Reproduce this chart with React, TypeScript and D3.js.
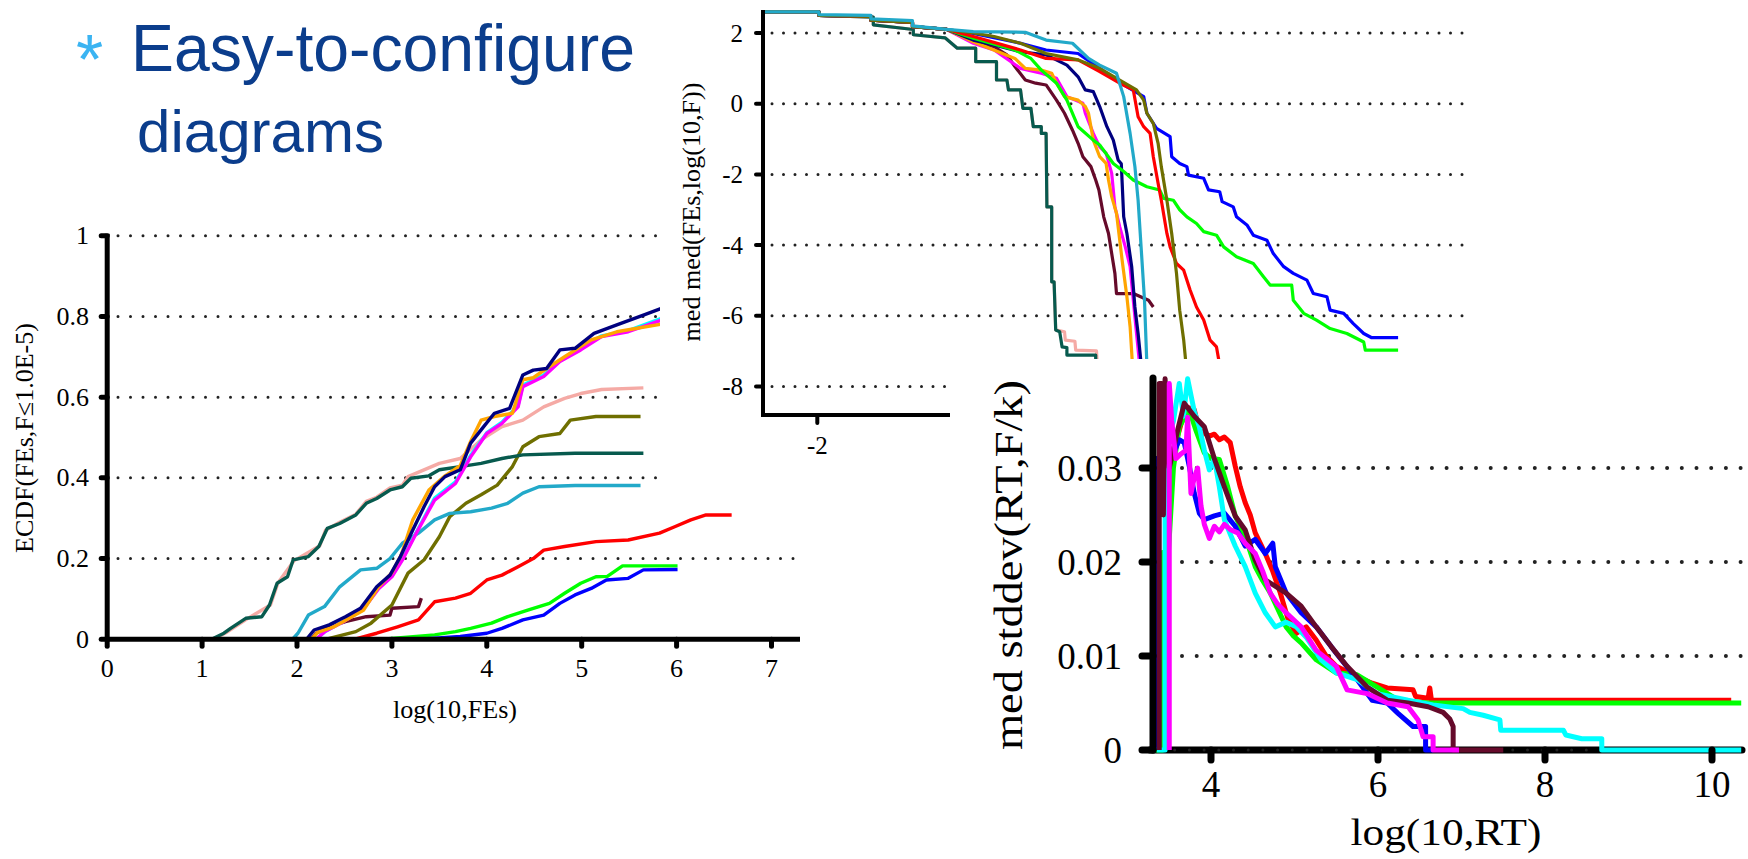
import React from "react";
import * as d3 from "d3";

type P = [number, number];

// ---------- Left chart: ECDF ----------
const ECDF_X_TICKS = [0, 1, 2, 3, 4, 5, 6, 7];
const ECDF_Y_TICKS = [0, 0.2, 0.4, 0.6, 0.8, 1];
const ECDF_Y_LABELS = ["0", "0.2", "0.4", "0.6", "0.8", "1"];

const ECDF_TEAL: P[] = [[0,0],[1.1,0],[1.23,.015],[1.3,.027],[1.46,.052],[1.63,.056],[1.71,.085],[1.79,.139],[1.9,.155],[1.96,.197],[2.12,.205],[2.23,.23],[2.32,.275],[2.45,.287],[2.62,.308],[2.73,.337],[2.84,.349],[2.98,.37],[3.11,.378],[3.2,.399],[3.39,.405],[3.5,.42],[3.72,.428],[3.94,.436],[4.16,.448],[4.38,.457],[4.93,.461],[5.65,.461]];
const ECDF_PINK: P[] = [[0,0],[1.12,0],[1.25,.016],[1.47,.05],[1.72,.085],[1.8,.14],[1.97,.195],[2.24,.232],[2.3,.27],[2.45,.29],[2.62,.31],[2.73,.342],[2.84,.352],[2.98,.375],[3.11,.382],[3.17,.403],[3.5,.436],[3.72,.448],[3.94,.494],[4.16,.527],[4.38,.543],[4.6,.576],[4.82,.597],[4.99,.609],[5.21,.619],[5.65,.623]];
const ECDF_STEEL: P[] = [[0,0],[1.95,0],[2.01,.015],[2.12,.06],[2.29,.081],[2.45,.13],[2.67,.172],[2.84,.176],[2.98,.2],[3.11,.238],[3.28,.263],[3.45,.296],[3.61,.312],[3.83,.316],[4.05,.325],[4.22,.337],[4.38,.362],[4.55,.378],[4.93,.381],[5.62,.381]];
const ECDF_NAVY: P[] = [[0,0],[2.1,0],[2.18,.023],[2.34,.036],[2.51,.056],[2.67,.077],[2.84,.13],[2.98,.159],[3.09,.205],[3.22,.271],[3.34,.329],[3.45,.378],[3.56,.403],[3.72,.42],[3.83,.486],[3.94,.519],[4.08,.56],[4.24,.572],[4.38,.655],[4.49,.667],[4.63,.671],[4.77,.717],[4.93,.721],[5.13,.758],[5.37,.779],[5.65,.803],[5.84,.82]];
const ECDF_ORANGE: P[] = [[0,0],[2.15,0],[2.22,.018],[2.38,.03],[2.55,.052],[2.7,.072],[2.86,.13],[3.0,.165],[3.1,.21],[3.22,.296],[3.39,.37],[3.56,.405],[3.72,.43],[3.83,.49],[3.94,.543],[4.08,.552],[4.27,.56],[4.38,.643],[4.49,.648],[4.63,.671],[4.82,.7],[5.1,.742],[5.37,.762],[5.84,.781]];
const ECDF_MAGENTA: P[] = [[0,0],[2.2,0],[2.3,.02],[2.5,.045],[2.7,.075],[2.86,.125],[3.0,.155],[3.12,.2],[3.25,.26],[3.45,.345],[3.67,.386],[3.83,.452],[4.0,.51],[4.16,.535],[4.33,.576],[4.38,.626],[4.6,.651],[4.77,.688],[4.99,.717],[5.21,.75],[5.49,.762],[5.84,.791]];
const ECDF_CYAN: P[] = [[0,0],[2.2,0],[2.3,.02],[2.5,.046],[2.7,.076],[2.86,.127],[3.0,.157],[3.12,.203],[3.25,.262],[3.45,.35],[3.67,.39],[3.83,.456],[4.0,.512],[4.16,.538],[4.33,.58],[4.38,.63],[4.6,.655],[4.77,.69],[4.99,.72],[5.21,.752],[5.49,.765],[5.84,.795]];
const ECDF_OLIVE: P[] = [[0,0],[2.3,0],[2.62,.019],[2.78,.04],[3.0,.085],[3.17,.164],[3.34,.197],[3.5,.254],[3.61,.304],[3.78,.337],[3.94,.358],[4.11,.382],[4.27,.428],[4.38,.477],[4.55,.502],[4.77,.51],[4.88,.543],[5.15,.552],[5.62,.552]];
const ECDF_MAROON: P[] = [[0,0],[2.15,0],[2.2,.015],[2.34,.031],[2.51,.044],[2.73,.056],[2.98,.06],[3.0,.077],[3.28,.081],[3.31,.102]];
const ECDF_RED: P[] = [[0,0],[2.6,0],[2.84,.015],[3.06,.031],[3.28,.048],[3.45,.093],[3.67,.102],[3.83,.114],[4.0,.147],[4.16,.159],[4.33,.18],[4.49,.2],[4.6,.221],[4.82,.23],[5.15,.242],[5.49,.246],[5.82,.263],[5.98,.279],[6.15,.296],[6.31,.308],[6.58,.308]];
const ECDF_GREEN: P[] = [[0,0],[2.9,0],[3.45,.011],[3.67,.019],[3.83,.027],[4.05,.04],[4.22,.056],[4.44,.073],[4.66,.089],[4.82,.114],[4.99,.139],[5.15,.155],[5.27,.156],[5.43,.182],[6.01,.182]];
const ECDF_BLUE: P[] = [[0,0],[3.3,0],[3.72,.007],[4.0,.015],[4.16,.027],[4.38,.048],[4.6,.06],[4.77,.089],[4.93,.11],[5.1,.126],[5.26,.147],[5.49,.151],[5.65,.172],[6.01,.173]];

// ---------- Top chart: med med(FEs, log(10,F)) ----------
const TOP_Y_TICKS = [2, 0, -2, -4, -6, -8];
const TOP_X_TICKS = [-2, 0, 2, 4];
const TOP_START: P[] = [[-2.68,2.6],[-1.98,2.6],[-1.98,2.5],[-1.33,2.47],[-1.33,2.36],[-0.81,2.3],[-0.81,2.18],[-0.38,2.1]];
const TOP_TEAL: P[] = [[-2.68,2.6],[-1.98,2.6],[-1.98,2.5],[-1.3,2.45],[-1.3,2.23],[-0.8,2.1],[-0.8,1.95],[-0.4,1.86],[-0.25,1.57],[-0.02,1.57],[-0.02,1.19],[0.24,1.19],[0.24,.67],[.37,.67],[.39,.39],[.54,.39],[.57,-.13],[.67,-.13],[.7,-.65],[.8,-.65],[.8,-.84],[.86,-.84],[.87,-2.92],[.93,-2.92],[.93,-5.04],[.96,-5.04],[.98,-6.4],[1.03,-6.45],[1.06,-6.88],[1.12,-6.9],[1.12,-7.11],[1.48,-7.11],[1.48,-7.4]];
const TOP_PINK: P[] = [[-2.68,2.6],[-1.98,2.6],[-1.98,2.5],[-1.3,2.45],[-1.3,2.23],[-0.8,2.1],[-0.8,1.95],[-0.4,1.86],[-0.25,1.57],[-0.02,1.57],[-0.02,1.19],[0.24,1.19],[0.24,.67],[.37,.67],[.39,.39],[.54,.39],[.57,-.13],[.67,-.13],[.7,-.65],[.8,-.65],[.8,-.84],[.86,-.84],[.87,-2.92],[.93,-2.92],[.93,-5.04],[.96,-5.04],[.98,-6.4],[1.09,-6.45],[1.1,-6.69],[1.22,-6.72],[1.23,-6.97],[1.49,-6.99],[1.5,-7.4]];
const TOP_MAROON: P[] = [...TOP_START,[-0.05,1.75],[0.21,1.61],[0.37,1.38],[0.47,1.05],[0.6,.67],[0.73,.58],[0.86,.53],[0.99,.1],[1.09,-.27],[1.19,-.75],[1.26,-1.12],[1.32,-1.5],[1.42,-1.78],[1.48,-2.16],[1.52,-2.44],[1.58,-3.2],[1.64,-3.67],[1.68,-4.24],[1.72,-4.8],[1.74,-5.37],[1.95,-5.37],[2.14,-5.56],[2.2,-5.75]];
const TOP_MAGENTA: P[] = [...TOP_START,[-0.05,1.71],[0.21,1.52],[0.54,1.0],[0.8,.86],[0.99,.72],[1.12,.2],[1.32,.01],[1.35,-.27],[1.45,-.84],[1.53,-1.22],[1.61,-1.4],[1.68,-1.97],[1.72,-2.92],[1.78,-3.48],[1.85,-4.05],[1.91,-4.61],[1.97,-6.03],[2.03,-7.4]];
const TOP_ORANGE: P[] = [...TOP_START,[-0.05,1.75],[0.47,1.28],[0.6,1.0],[0.8,.95],[0.93,.86],[0.99,.58],[1.09,.2],[1.26,.1],[1.35,-.08],[1.39,-.27],[1.45,-1.03],[1.53,-1.5],[1.61,-1.69],[1.64,-2.16],[1.68,-2.63],[1.74,-3.1],[1.81,-4.42],[1.87,-5.46],[1.91,-6.31],[1.94,-7.4]];
const TOP_NAVY: P[] = [...TOP_START,[-0.05,1.8],[0.21,1.66],[0.54,1.47],[0.86,1.38],[1.12,1.09],[1.26,.76],[1.35,.39],[1.45,.34],[1.53,-.08],[1.62,-.65],[1.7,-1.03],[1.76,-1.59],[1.8,-1.7],[1.83,-3.2],[1.87,-3.67],[1.93,-4.61],[1.97,-5.75],[2.01,-6.5],[2.05,-7.4]];
const TOP_STEEL: P[] = [[-2.68,2.6],[-1.98,2.6],[-1.98,2.52],[-1.33,2.5],[-1.33,2.4],[-0.81,2.35],[-0.81,2.2],[-0.38,2.1],[-0.05,2.04],[0.6,2.02],[0.86,1.8],[1.19,1.71],[1.39,1.28],[1.53,1.09],[1.74,.86],[1.83,.2],[1.91,-.84],[1.97,-1.78],[2.01,-2.73],[2.05,-4.14],[2.09,-5.56],[2.12,-7.4]];
const TOP_GREEN: P[] = [...TOP_START,[-0.05,1.85],[0.47,1.52],[0.67,1.28],[0.8,.95],[0.99,.58],[1.12,.1],[1.26,-.65],[1.45,-1.03],[1.53,-1.17],[1.7,-1.69],[1.83,-1.92],[1.95,-2.16],[2.12,-2.35],[2.28,-2.44],[2.33,-2.68],[2.45,-2.73],[2.53,-3.0],[2.62,-3.2],[2.74,-3.39],[2.83,-3.62],[2.99,-3.72],[3.08,-4.05],[3.24,-4.33],[3.45,-4.52],[3.58,-4.9],[3.66,-5.13],[3.93,-5.13],[3.95,-5.56],[4.08,-5.93],[4.24,-6.12],[4.41,-6.36],[4.62,-6.5],[4.83,-6.74],[4.85,-6.97],[5.26,-6.97]];
const TOP_BLUE: P[] = [...TOP_START,[-0.05,1.99],[0.54,1.71],[0.86,1.52],[1.26,1.42],[1.53,1.0],[1.83,.53],[2.08,.2],[2.12,-.27],[2.24,-.7],[2.41,-.93],[2.43,-1.5],[2.53,-1.69],[2.62,-1.78],[2.64,-2.02],[2.83,-2.11],[2.89,-2.44],[3.03,-2.49],[3.06,-2.77],[3.2,-2.92],[3.24,-3.2],[3.37,-3.43],[3.45,-3.72],[3.62,-3.86],[3.7,-4.24],[3.83,-4.61],[3.95,-4.8],[4.12,-4.99],[4.2,-5.37],[4.37,-5.46],[4.41,-5.84],[4.58,-5.93],[4.7,-6.22],[4.83,-6.5],[4.93,-6.62],[5.26,-6.62]];
const TOP_RED: P[] = [...TOP_START,[-0.05,1.9],[0.54,1.52],[0.86,1.28],[1.26,1.24],[1.53,.91],[1.78,.58],[1.95,.39],[2.01,-.37],[2.08,-.65],[2.16,-.84],[2.2,-1.5],[2.26,-2.25],[2.3,-2.73],[2.37,-3.67],[2.41,-4.05],[2.49,-4.52],[2.58,-4.71],[2.66,-5.27],[2.74,-5.75],[2.83,-6.12],[2.91,-6.69],[2.99,-6.88],[3.03,-7.4]];
const TOP_OLIVE: P[] = [...TOP_START,[-0.05,2.0],[0.21,1.9],[0.54,1.71],[0.86,1.42],[1.26,1.24],[1.53,1.0],[1.78,.67],[1.99,.39],[2.08,.1],[2.12,-.27],[2.2,-.56],[2.26,-1.12],[2.3,-1.78],[2.37,-2.73],[2.43,-3.67],[2.49,-4.8],[2.53,-5.84],[2.58,-6.69],[2.61,-7.4]];

// ---------- Right chart: med stddev(RT, F/k) ----------
const STD_X_TICKS = [4, 6, 8, 10];
const STD_Y_TICKS = [0, 0.01, 0.02, 0.03];
const STD_Y_LABELS = ["0", "0.01", "0.02", "0.03"];
const STD_RED: P[] = [[3.47,0],[3.47,.03],[3.55,.032],[3.62,.034],[3.7,.0365],[3.8,.0362],[3.86,.034],[3.92,.0337],[3.98,.0334],[4.04,.0336],[4.1,.033],[4.16,.0333],[4.23,.0327],[4.29,.0302],[4.35,.028],[4.41,.0263],[4.47,.025],[4.53,.0231],[4.65,.0209],[4.74,.019],[4.83,.0167],[4.92,.014],[5.02,.0124],[5.14,.0131],[5.26,.0117],[5.38,.01],[5.5,.0089],[5.75,.0078],[5.93,.0071],[6.11,.0066],[6.42,.0064],[6.45,.0057],[6.6,.0055],[6.62,.0066],[6.64,.0053],[10.23,.0053]];
const STD_GREEN: P[] = [[3.3,0],[3.42,0],[3.42,.021],[3.49,.021],[3.55,.03],[3.62,.0344],[3.74,.0362],[3.82,.034],[3.92,.0316],[4.0,.031],[4.1,.0309],[4.2,.028],[4.29,.0249],[4.41,.0227],[4.53,.0195],[4.62,.018],[4.71,.0167],[4.8,.015],[4.9,.0131],[4.98,.0122],[5.08,.0114],[5.26,.0096],[5.5,.0082],[5.75,.008],[5.99,.0067],[6.24,.0053],[6.6,.005],[10.35,.005]];
const STD_BLUE: P[] = [[3.33,0],[3.33,.031],[3.45,.031],[3.55,.0315],[3.62,.033],[3.68,.0327],[3.74,.0302],[3.8,.0273],[3.86,.0252],[3.92,.0245],[4.04,.0249],[4.16,.0252],[4.29,.0238],[4.41,.0217],[4.53,.0224],[4.65,.0209],[4.74,.022],[4.77,.0195],[4.9,.0167],[5.08,.0146],[5.26,.0131],[5.5,.0103],[5.75,.0075],[5.93,.0053],[6.11,.005],[6.24,.0039],[6.42,.0025],[6.57,.0025],[6.57,0],[6.66,0]];
const STD_CYAN: P[] = [[3.35,0],[3.45,0],[3.45,.032],[3.55,.035],[3.62,.039],[3.67,.0355],[3.72,.0395],[3.8,.036],[3.86,.0344],[3.92,.0319],[3.98,.0298],[4.04,.031],[4.1,.028],[4.16,.0245],[4.29,.0217],[4.41,.0195],[4.53,.0167],[4.65,.0146],[4.77,.0131],[4.9,.0136],[5.02,.0131],[5.14,.012],[5.32,.0096],[5.5,.0082],[5.75,.0075],[5.99,.006],[6.36,.0053],[6.66,.0048],[7.02,.0044],[7.1,.004],[7.26,.0037],[7.46,.0032],[7.47,.0021],[8.22,.0021],[8.25,.0016],[8.44,.0012],[8.68,.0012],[8.68,0],[10.35,0]];
const STD_MAROON: P[] = [[3.38,0],[3.38,.039],[3.41,.039],[3.43,.025],[3.45,.0395],[3.5,.03],[3.6,.034],[3.68,.0369],[3.8,.0355],[3.92,.0344],[4.04,.031],[4.16,.028],[4.29,.0249],[4.41,.0234],[4.53,.0202],[4.65,.0181],[4.9,.0167],[5.08,.0153],[5.26,.0131],[5.44,.011],[5.63,.0089],[5.87,.0067],[6.11,.0053],[6.36,.005],[6.6,.0046],[6.78,.004],[6.86,.0033],[6.9,.0025],[6.9,0],[7.5,0]];
const STD_MAGENTA: P[] = [[3.5,0],[3.5,.039],[3.53,.035],[3.58,.031],[3.64,.0315],[3.7,.0319],[3.72,.0354],[3.76,.0273],[3.8,.029],[3.84,.03],[3.88,.026],[3.92,.024],[3.98,.0225],[4.04,.0238],[4.1,.0232],[4.16,.024],[4.24,.0234],[4.32,.0231],[4.41,.022],[4.53,.0209],[4.62,.019],[4.71,.0167],[4.8,.0155],[4.9,.0146],[5.08,.0131],[5.26,.0106],[5.5,.0089],[5.63,.0064],[5.87,.006],[6.11,.005],[6.36,.0046],[6.48,.0032],[6.54,.0014],[6.66,.0014],[6.66,0],[6.97,0]];

const C = {
  teal: "#075a4e", pink: "#f5aaa5", steel: "#22a9c9", navy: "#00007f", orange: "#ffa500",
  magenta: "#ff00ff", cyan: "#00ffff", olive: "#6f6f00", maroon: "#650a2a", red: "#ff0000",
  green: "#00ff00", blue: "#0000ff",
};

const SERIF = "'Liberation Serif', 'Times New Roman', serif";
const SANS = "'Liberation Sans', Arial, sans-serif";

function Dotted({ x1, x2, y, gap, w }: { x1: number; x2: number; y: number; gap: number; w: number }) {
  return <line x1={x1} x2={x2} y1={y} y2={y} stroke="#222" strokeWidth={w} strokeLinecap="round" strokeDasharray={`0 ${gap}`} />;
}

export default function App() {
  const xL = d3.scaleLinear().domain([0, 7]).range([107.2, 771.5]);
  const yL = d3.scaleLinear().domain([0, 1]).range([639.3, 235.7]);
  const lL = d3.line<P>().x(d => xL(d[0])).y(d => yL(d[1]));
  const xT = d3.scaleLinear().domain([-2, 0]).range([817.3, 977.3]);
  const yT = d3.scaleLinear().domain([0, 2]).range([103.7, 33]);
  const lT = d3.line<P>().x(d => xT(d[0])).y(d => yT(d[1]));
  const xR = d3.scaleLinear().domain([4, 10]).range([1211, 1712]);
  const yR = d3.scaleLinear().domain([0, 0.03]).range([750, 468]);
  const lR = d3.line<P>().x(d => xR(d[0])).y(d => yR(d[1]));

  const ecdf: [P[], string][] = [
    [ECDF_GREEN, C.green], [ECDF_BLUE, C.blue], [ECDF_RED, C.red], [ECDF_MAROON, C.maroon],
    [ECDF_OLIVE, C.olive], [ECDF_STEEL, C.steel], [ECDF_PINK, C.pink], [ECDF_TEAL, C.teal],
    [ECDF_CYAN, C.cyan], [ECDF_MAGENTA, C.magenta], [ECDF_ORANGE, C.orange], [ECDF_NAVY, C.navy],
  ];
  const top: [P[], string][] = [
    [TOP_PINK, C.pink], [TOP_TEAL, C.teal], [TOP_MAROON, C.maroon], [TOP_MAGENTA, C.magenta],
    [TOP_ORANGE, C.orange], [TOP_NAVY, C.navy], [TOP_GREEN, C.green], [TOP_BLUE, C.blue],
    [TOP_RED, C.red], [TOP_OLIVE, C.olive], [TOP_STEEL, C.steel],
  ];
  const std: [P[], string][] = [
    [STD_RED, C.red], [STD_GREEN, C.green], [STD_BLUE, C.blue], [STD_CYAN, C.cyan],
    [STD_MAROON, C.maroon], [STD_MAGENTA, C.magenta],
  ];

  return (
    <svg width={1748} height={859} style={{ position: "absolute", left: 0, top: 0, background: "#fff" }}>
      <rect x={0} y={0} width={1748} height={859} fill="#fff" />
      {/* Title */}
      <text x={76} y={84} fill="#3bb4f2" fontFamily={SANS} fontSize={70}>*</text>
      <text x={131} y={71} fill="#0b3d8c" fontFamily={SANS} fontSize={66} textLength={504} lengthAdjust="spacingAndGlyphs">Easy-to-configure</text>
      <text x={137} y={152} fill="#0b3d8c" fontFamily={SANS} fontSize={60} textLength={247} lengthAdjust="spacingAndGlyphs">diagrams</text>

      {/* ===== Left ECDF chart ===== */}
      <g>
        {ECDF_Y_TICKS.filter(t => t > 0).map(t => (
          <Dotted key={t} x1={118} x2={799} y={yL(t)} gap={12.5} w={3} />
        ))}
        {ecdf.map(([d, c], i) => (
          <path key={i} d={lL(d) || ""} fill="none" stroke={c} strokeWidth={3.4} strokeLinejoin="round" />
        ))}
        <line x1={xL(0)} x2={xL(0)} y1={yL(0)} y2={yL(1) - 2} stroke="#000" strokeWidth={5} />
        <line x1={xL(0) - 2} x2={800} y1={yL(0)} y2={yL(0)} stroke="#000" strokeWidth={5} />
        {ECDF_Y_TICKS.map((t, i) => (
          <g key={t}>
            <line x1={xL(0) - 6} x2={xL(0)} y1={yL(t)} y2={yL(t)} stroke="#000" strokeWidth={5} strokeLinecap="round" />
            <text x={89} y={yL(t)} textAnchor="end" dominantBaseline="central" fontFamily={SERIF} fontSize={26}>{ECDF_Y_LABELS[i]}</text>
          </g>
        ))}
        {ECDF_X_TICKS.map(t => (
          <g key={t}>
            <line x1={xL(t)} x2={xL(t)} y1={yL(0)} y2={yL(0) + 7} stroke="#000" strokeWidth={5} strokeLinecap="round" />
            <text x={xL(t)} y={677} textAnchor="middle" fontFamily={SERIF} fontSize={26}>{t}</text>
          </g>
        ))}
        <text x={455} y={718} textAnchor="middle" fontFamily={SERIF} fontSize={26} textLength={124} lengthAdjust="spacingAndGlyphs">log(10,FEs)</text>
        <text transform="translate(33,438) rotate(-90)" textAnchor="middle" fontFamily={SERIF} fontSize={25} textLength={230} lengthAdjust="spacingAndGlyphs">ECDF(FEs,F≤1.0E-5)</text>
      </g>

      {/* ===== Top chart ===== */}
      <g>
        <rect x={660} y={0} width={820} height={500} fill="#fff" />
        {TOP_Y_TICKS.map(t => (
          <Dotted key={t} x1={772} x2={1463} y={yT(t)} gap={11.5} w={3} />
        ))}
        {top.map(([d, c], i) => (
          <path key={i} d={lT(d) || ""} fill="none" stroke={c} strokeWidth={3.2} strokeLinejoin="round" />
        ))}
        <line x1={763} x2={763} y1={10} y2={415} stroke="#000" strokeWidth={4} />
        <line x1={761} x2={1463} y1={415} y2={415} stroke="#000" strokeWidth={4} />
        {TOP_Y_TICKS.map(t => (
          <g key={t}>
            <line x1={756} x2={763} y1={yT(t)} y2={yT(t)} stroke="#000" strokeWidth={4} strokeLinecap="round" />
            <text x={743} y={yT(t)} textAnchor="end" dominantBaseline="central" fontFamily={SERIF} fontSize={25}>{t}</text>
          </g>
        ))}
        {TOP_X_TICKS.map(t => (
          <g key={t}>
            <line x1={xT(t)} x2={xT(t)} y1={415} y2={423} stroke="#000" strokeWidth={4} strokeLinecap="round" />
            <text x={xT(t)} y={454} textAnchor="middle" fontFamily={SERIF} fontSize={25}>{t}</text>
          </g>
        ))}
        <text transform="translate(700,212) rotate(-90)" textAnchor="middle" fontFamily={SERIF} fontSize={26} textLength={259} lengthAdjust="spacingAndGlyphs">med med(FEs,log(10,F))</text>
      </g>

      {/* ===== Right chart ===== */}
      <g>
        <rect x={950} y={359} width={798} height={500} fill="#fff" />
        {STD_Y_TICKS.filter(t => t > 0).map(t => (
          <Dotted key={t} x1={1182} x2={1745} y={yR(t)} gap={14.7} w={4} />
        ))}
        <line x1={1150} x2={1742} y1={yR(0)} y2={yR(0)} stroke="#000" strokeWidth={7} strokeLinecap="round" />
        <Dotted x1={1160} x2={1745} y={yR(0)} gap={14.7} w={3} />
        {std.map(([d, c], i) => (
          <path key={i} d={lR(d) || ""} fill="none" stroke={c} strokeWidth={5} strokeLinejoin="round" />
        ))}
        <line x1={1153} x2={1153} y1={378} y2={yR(0)} stroke="#000" strokeWidth={7} strokeLinecap="round" />
        {STD_Y_TICKS.map((t, i) => (
          <g key={t}>
            <line x1={1142} x2={1153} y1={yR(t)} y2={yR(t)} stroke="#000" strokeWidth={7} strokeLinecap="round" />
            <text x={1122} y={yR(t)} textAnchor="end" dominantBaseline="central" fontFamily={SERIF} fontSize={37}>{STD_Y_LABELS[i]}</text>
          </g>
        ))}
        {STD_X_TICKS.map(t => (
          <g key={t}>
            <line x1={xR(t)} x2={xR(t)} y1={yR(0)} y2={yR(0) + 10} stroke="#000" strokeWidth={7} strokeLinecap="round" />
            <text x={xR(t)} y={797} textAnchor="middle" fontFamily={SERIF} fontSize={37}>{t}</text>
          </g>
        ))}
        <text x={1446} y={845} textAnchor="middle" fontFamily={SERIF} fontSize={38} textLength={191} lengthAdjust="spacingAndGlyphs">log(10,RT)</text>
        <text transform="translate(1022,565) rotate(-90)" textAnchor="middle" fontFamily={SERIF} fontSize={40} textLength={370} lengthAdjust="spacingAndGlyphs">med stddev(RT,F/k)</text>
      </g>
    </svg>
  );
}
